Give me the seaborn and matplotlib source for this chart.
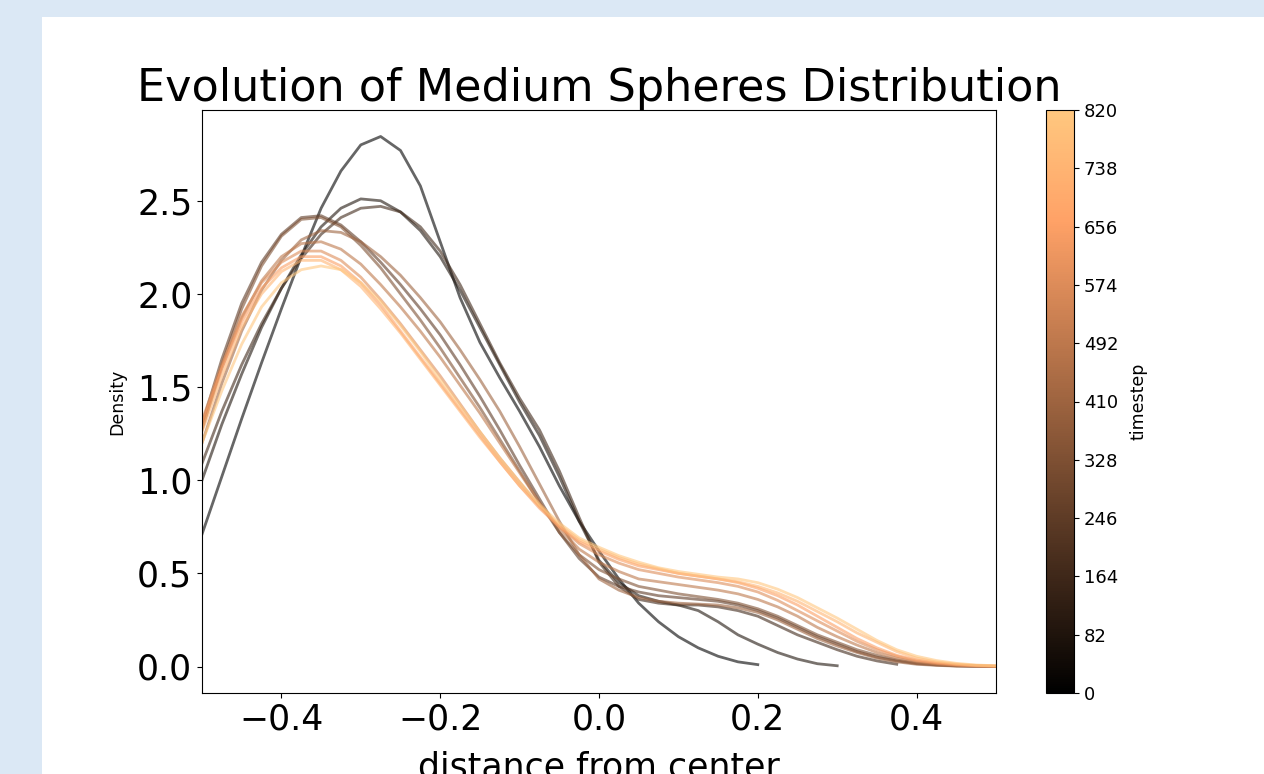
import numpy as np
import pandas as pd
import matplotlib
import matplotlib.pyplot as plt
import seaborn as sns
from matplotlib.patches import Rectangle

nan = np.nan

# density curves, one per timestep
distance = [-0.5, -0.475, -0.45, -0.425, -0.4, -0.375, -0.35, -0.325, -0.3, -0.275,
            -0.25, -0.225, -0.2, -0.175, -0.15, -0.125, -0.1, -0.075, -0.05, -0.025,
            0.0, 0.025, 0.05, 0.075, 0.1, 0.125, 0.15, 0.175, 0.2, 0.225,
            0.25, 0.275, 0.3, 0.325, 0.35, 0.375, 0.4, 0.425, 0.45, 0.475, 0.5]
timesteps = [0, 82, 164, 246, 328, 410, 492, 574, 656, 738, 820]

t0 = [0.71, 1.02, 1.33, 1.63, 1.92, 2.2, 2.46, 2.66, 2.8, 2.845, 2.77, 2.58, 2.28, 1.98,
      1.74, 1.55, 1.37, 1.18, 0.97, 0.78, 0.62,
      0.47, 0.34, 0.24, 0.16, 0.1, 0.055, 0.025, 0.01,
      nan, nan, nan, nan, nan, nan, nan, nan, nan, nan, nan, nan]
t82 = [1.0, 1.3, 1.57, 1.82, 2.03, 2.21, 2.36, 2.46, 2.51, 2.5, 2.44, 2.34, 2.2, 2.02,
       1.82, 1.62, 1.42, 1.24, 1.02, 0.78, 0.57,
       0.45, 0.38, 0.35, 0.33, 0.3, 0.24, 0.17, 0.12, 0.075, 0.04, 0.015, 0.004,
       nan, nan, nan, nan, nan, nan, nan, nan]
t164 = [1.09, 1.37, 1.62, 1.84, 2.03, 2.19, 2.32, 2.41, 2.46, 2.47, 2.44, 2.36, 2.23, 2.05,
        1.84, 1.63, 1.44, 1.27, 1.05, 0.8, 0.56,
        0.43, 0.36, 0.34, 0.33, 0.33, 0.32, 0.3, 0.27, 0.22, 0.17, 0.13, 0.09, 0.055,
        0.03, 0.012, nan, nan, nan, nan, nan]
t246 = [1.3, 1.65, 1.95, 2.17, 2.32, 2.41, 2.42, 2.37, 2.28, 2.17, 2.05, 1.92, 1.78, 1.62,
        1.45, 1.27, 1.08, 0.9, 0.72, 0.58, 0.48,
        0.43, 0.4, 0.38, 0.37, 0.36, 0.35, 0.33, 0.3, 0.26, 0.21, 0.16, 0.12, 0.08,
        0.05, 0.03, 0.015, 0.008, 0.003, 0.001, 0.0]
t328 = [1.27, 1.62, 1.92, 2.15, 2.31, 2.4, 2.41, 2.36, 2.26, 2.14, 2.0, 1.86, 1.71, 1.55,
        1.39, 1.22, 1.05, 0.88, 0.72, 0.6, 0.52,
        0.47, 0.43, 0.41, 0.39, 0.375, 0.36, 0.34, 0.31, 0.27, 0.22, 0.17, 0.13, 0.09,
        0.06, 0.035, 0.018, 0.009, 0.004, 0.002, 0.001]
t410 = [1.2, 1.52, 1.8, 2.02, 2.18, 2.29, 2.34, 2.33, 2.28, 2.2, 2.1, 1.98, 1.85, 1.7,
        1.54, 1.37, 1.18, 0.98, 0.78, 0.6, 0.47,
        0.41, 0.37, 0.35, 0.34, 0.335, 0.33, 0.315, 0.29, 0.25, 0.2, 0.15, 0.11, 0.075,
        0.045, 0.025, 0.012, 0.006, 0.002, 0.001, 0.0]
t492 = [1.28, 1.6, 1.87, 2.07, 2.2, 2.27, 2.28, 2.24, 2.16, 2.05, 1.93, 1.8, 1.66, 1.51,
        1.36, 1.2, 1.04, 0.88, 0.74, 0.63, 0.56,
        0.51, 0.47, 0.455, 0.44, 0.425, 0.41, 0.39, 0.36, 0.32, 0.27, 0.21, 0.16, 0.115,
        0.075, 0.045, 0.025, 0.013, 0.006, 0.003, 0.001]
t574 = [1.32, 1.62, 1.88, 2.06, 2.17, 2.23, 2.23, 2.18, 2.09, 1.97, 1.84, 1.7, 1.56, 1.41,
        1.26, 1.12, 0.99, 0.86, 0.75, 0.66, 0.6,
        0.555, 0.52, 0.5, 0.48, 0.465, 0.45, 0.43, 0.4, 0.355, 0.3, 0.245, 0.19, 0.135,
        0.09, 0.055, 0.03, 0.016, 0.008, 0.003, 0.001]
t656 = [1.3, 1.6, 1.85, 2.03, 2.14, 2.2, 2.2, 2.15, 2.06, 1.94, 1.8, 1.66, 1.52, 1.38,
        1.24, 1.1, 0.97, 0.85, 0.75, 0.67, 0.62,
        0.575, 0.54, 0.52, 0.5, 0.485, 0.47, 0.45, 0.42, 0.38, 0.33, 0.27, 0.21, 0.15,
        0.1, 0.06, 0.035, 0.02, 0.01, 0.004, 0.002]
t738 = [1.26, 1.56, 1.82, 2.0, 2.12, 2.18, 2.18, 2.13, 2.04, 1.92, 1.79, 1.65, 1.51, 1.37,
        1.23, 1.1, 0.97, 0.86, 0.76, 0.68, 0.63,
        0.585, 0.55, 0.525, 0.5, 0.485, 0.47, 0.455, 0.43, 0.395, 0.35, 0.295, 0.24, 0.18,
        0.13, 0.08, 0.045, 0.025, 0.013, 0.006, 0.003]
t820 = [1.2, 1.48, 1.73, 1.93, 2.06, 2.13, 2.15, 2.13, 2.06, 1.96, 1.83, 1.69, 1.54, 1.4,
        1.26, 1.12, 0.99, 0.87, 0.77, 0.69, 0.64,
        0.595, 0.56, 0.53, 0.51, 0.495, 0.48, 0.47, 0.45, 0.415, 0.37, 0.315, 0.26, 0.2,
        0.14, 0.09, 0.055, 0.032, 0.017, 0.008, 0.004]

curves = [t0, t82, t164, t246, t328, t410, t492, t574, t656, t738, t820]

rows = []
for ts, dens in zip(timesteps, curves):
    for x, y in zip(distance, dens):
        rows.append((ts, x, y))
df = pd.DataFrame(rows, columns=["timestep", "distance", "density"]).dropna()

fig = plt.figure(figsize=(12.64, 7.74), dpi=100, facecolor="#dbe8f5")
fig.patches.append(Rectangle((42 / 1264, 0), 1, (774 - 17) / 774,
                             transform=fig.transFigure, facecolor="white",
                             edgecolor="none", zorder=-10))

ax = fig.add_axes([202 / 1264, 81 / 774, 794 / 1264, 583 / 774])
cax = fig.add_axes([1046 / 1264, 81 / 774, 28 / 1264, 583 / 774])

norm = matplotlib.colors.Normalize(vmin=0, vmax=820)
sns.lineplot(data=df, x="distance", y="density", hue="timestep", units="timestep",
             estimator=None, palette="copper", hue_norm=norm, legend=False,
             alpha=0.6, linewidth=2, ax=ax)

ax.set_xlim(-0.5, 0.5)
ax.set_title("Evolution of Medium Spheres Distribution", fontsize=32)
ax.set_xlabel("distance from center", fontsize=25, labelpad=10)
ax.set_ylabel("Density", fontsize=12.5, labelpad=8)
ax.tick_params(labelsize=25)
ax.set_yticks([0.0, 0.5, 1.0, 1.5, 2.0, 2.5])

sm = matplotlib.cm.ScalarMappable(norm=norm, cmap="copper")
cbar = fig.colorbar(sm, cax=cax, ticks=np.arange(0, 821, 82))
cbar.set_label("timestep", fontsize=12.5, labelpad=8)
cbar.ax.tick_params(labelsize=13)

plt.savefig("out.png", dpi=100, facecolor=fig.get_facecolor())
